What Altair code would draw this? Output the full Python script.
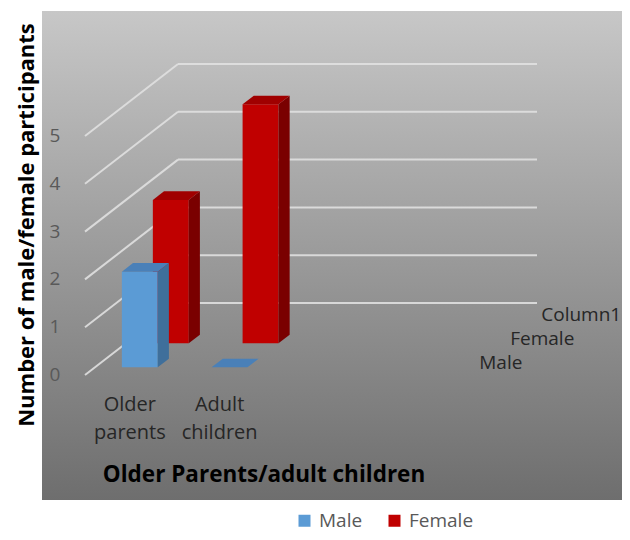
import altair as alt
import pandas as pd

# ---- data ----
categories = ["Older parents", "Adult children"]
category_text = ["Older\nparents", "Adult\nchildren"]
series = ["Male", "Female"]
male = [2, 0]
female = [3, 5]
depth_rows = ["Male", "Female", "Column1"]
y_ticks = [0, 1, 2, 3, 4, 5]
x_title = "Older Parents/adult children"
y_title = "Number of male/female participants"

front_colors = ["#5b9bd5", "#c00000"]
side_colors = ["#3f6f9b", "#7a0000"]
top_colors = ["#4a80b8", "#a00000"]

# ---- pseudo-3D layout constants ----
W, H = 580, 489
PX_X, PX_Y = 89.75, 47.8          # px per category slot / per value unit
ORIGIN_X, ORIGIN_Y = 43, 364      # plot px of front-left floor corner
KX, KY = 31 / PX_X, 24 / PX_Y     # depth shift per series row
N_SLOTS = 4
N_ROWS = 3
BAR_W = 0.4
D0, D1 = 0.32, 0.68
FONT = "Open Sans"

xs = alt.Scale(domain=[-ORIGIN_X / PX_X, (W - ORIGIN_X) / PX_X], nice=False, zero=False)
ys = alt.Scale(domain=[-(H - ORIGIN_Y) / PX_Y, ORIGIN_Y / PX_Y], nice=False, zero=False)

values = {"Male": male, "Female": female}

front_rows, side_rows, top_rows = [], [], []
for r, s in enumerate(series):
    for c, (cat, v) in enumerate(zip(categories, values[s])):
        bid = f"{s}-{cat}"
        x0 = c + (1 - BAR_W) / 2 + KX * (r + D0)
        y0 = KY * (r + D0)
        front_rows.append(dict(series=s, cat=cat, x=x0, x2=x0 + BAR_W, y=y0, y2=y0 + v))
        for d in (D0, D1):
            xr = c + (1 - BAR_W) / 2 + BAR_W + KX * (r + d)
            yb = KY * (r + d)
            side_rows.append(dict(series=s, id=bid, x=xr, y=yb, y2=yb + v))
            xl = c + (1 - BAR_W) / 2 + KX * (r + d)
            top_rows.append(dict(series=s, id=bid, y=yb + v, x=xl, x2=xl + BAR_W))

front_df = pd.DataFrame(front_rows)
side_df = pd.DataFrame(side_rows)
top_df = pd.DataFrame(top_rows)

grid_rows = []
for v in y_ticks:
    grid_rows.append(dict(x=0, y=v, x2=KX * N_ROWS, y2=v + KY * N_ROWS))
    grid_rows.append(dict(x=KX * N_ROWS, y=v + KY * N_ROWS, x2=KX * N_ROWS + N_SLOTS, y2=v + KY * N_ROWS))
grid_df = pd.DataFrame(grid_rows)

tick_df = pd.DataFrame(dict(v=y_ticks, x=[-0.334] * len(y_ticks), label=[str(t) for t in y_ticks]))
cat_df = pd.DataFrame(dict(label=category_text, x=[i + 0.5 for i in range(len(categories))],
                           y=[-0.63] * len(categories)))
depth_df = pd.DataFrame(dict(label=depth_rows,
                             x=[N_SLOTS + KX * (r + 0.5) + 0.22 for r in range(N_ROWS)],
                             y=[KY * (r + 0.5) for r in range(N_ROWS)]))

bg = alt.Chart(pd.DataFrame({"a": [0]})).mark_rect(
    color=alt.Gradient(gradient="linear",
                       stops=[alt.GradientStop(color="#c7c7c7", offset=0),
                              alt.GradientStop(color="#6e6e6e", offset=1)],
                       x1=0, x2=0, y1=0, y2=1)
).encode(x=alt.value(0), x2=alt.value(W), y=alt.value(0), y2=alt.value(H))

grid = alt.Chart(grid_df).mark_rule(color="#e0e0e0", strokeWidth=2, opacity=0.9).encode(
    x=alt.X("x:Q", scale=xs, axis=None), x2="x2:Q",
    y=alt.Y("y:Q", scale=ys, axis=None), y2="y2:Q",
)

color_enc = alt.Color("series:N", scale=alt.Scale(domain=series, range=front_colors),
                      legend=alt.Legend(orient="none", legendX=253, legendY=500, direction="horizontal",
                                        title=None, symbolType="square", symbolSize=144,
                                        labelFont=FONT, labelFontSize=19, labelColor="#595959",
                                        columnPadding=22, labelOffset=5, symbolStrokeWidth=0))

def bar_layers(r, s):
    f = alt.Chart(front_df).transform_filter(alt.datum.series == s).mark_rect().encode(
        x=alt.X("x:Q", scale=xs, axis=None), x2="x2:Q",
        y=alt.Y("y:Q", scale=ys, axis=None), y2="y2:Q",
        color=color_enc)
    sd = alt.Chart(side_df).transform_filter(alt.datum.series == s).mark_area(
        color=side_colors[r], orient="vertical").encode(
        x=alt.X("x:Q", scale=xs, axis=None),
        y=alt.Y("y:Q", scale=ys, axis=None), y2="y2:Q", detail="id:N")
    tp = alt.Chart(top_df).transform_filter(alt.datum.series == s).mark_area(
        color=top_colors[r], orient="horizontal").encode(
        y=alt.Y("y:Q", scale=ys, axis=None),
        x=alt.X("x:Q", scale=xs, axis=None), x2="x2:Q", detail="id:N")
    return [f, sd, tp]

bars = []
for r in reversed(range(len(series))):
    bars += bar_layers(r, series[r])

ticks = alt.Chart(tick_df).mark_text(font=FONT, fontSize=19, color="#595959", align="center",
                                     baseline="middle").encode(
    x=alt.X("x:Q", scale=xs, axis=None), y=alt.Y("v:Q", scale=ys, axis=None), text="label:N")

cats = alt.Chart(cat_df).mark_text(font=FONT, fontSize=20, color="#262626", align="center",
                                   baseline="middle", lineBreak="\n", lineHeight=28).encode(
    x=alt.X("x:Q", scale=xs, axis=None), y=alt.Y("y:Q", scale=ys, axis=None), text="label:N")

depth = alt.Chart(depth_df).mark_text(font=FONT, fontSize=19, color="#262626", align="left",
                                      baseline="middle").encode(
    x=alt.X("x:Q", scale=xs, axis=None), y=alt.Y("y:Q", scale=ys, axis=None), text="label:N")

title_df = pd.DataFrame({"t": [x_title], "u": [y_title]})
xt = alt.Chart(title_df).mark_text(font=FONT, fontSize=22.5, fontWeight="bold", color="black",
                                   align="center", baseline="middle").encode(
    text="t:N", x=alt.value(222), y=alt.value(464))
yt = alt.Chart(title_df).mark_text(font=FONT, fontSize=22, fontWeight="bold", color="black",
                                   align="center", baseline="middle", angle=270).encode(
    text="u:N", x=alt.value(-15), y=alt.value(214))

chart = alt.layer(bg, grid, *bars, ticks, cats, depth, xt, yt).properties(
    width=W, height=H,
    autosize=alt.AutoSizeParams(type="none"),
    padding={"left": 34, "top": 3, "right": 0, "bottom": 32},
).configure_view(stroke=None)

chart.save("out.html", embed_options={"renderer": "svg", "actions": False})
